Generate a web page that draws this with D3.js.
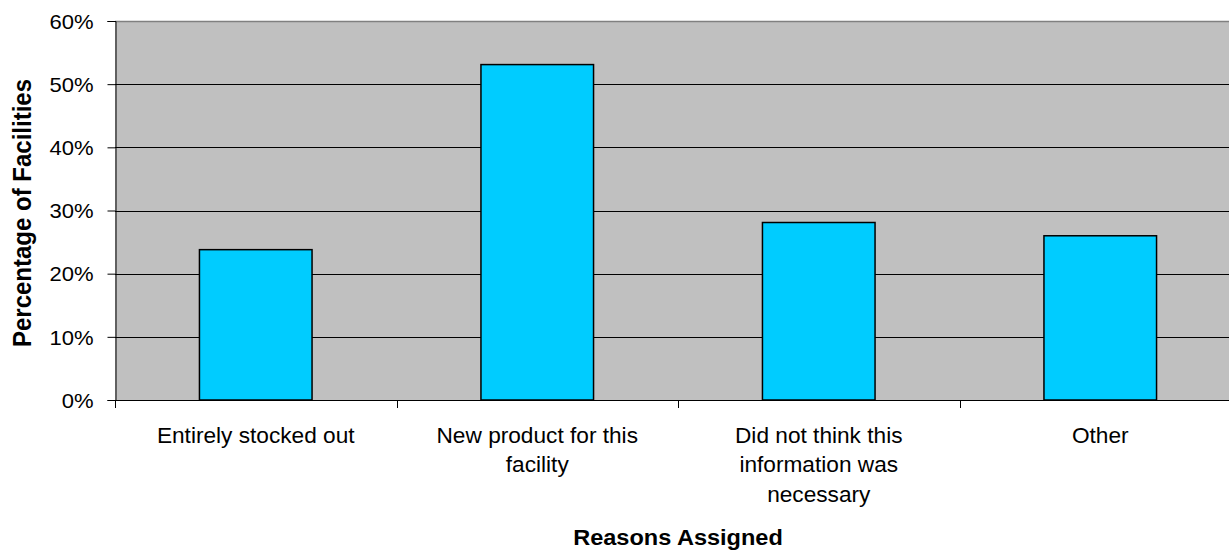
<!DOCTYPE html>
<html>
<head>
<meta charset="utf-8">
<script src="https://cdn.jsdelivr.net/npm/d3@7"></script>
<style>
  html, body { margin: 0; padding: 0; background: #fff; }
  svg { display: block; font-family: "Liberation Sans", Arial, sans-serif; }
</style>
</head>
<body>
<svg id="chart" width="1229" height="550"></svg>
<script>
// Reasons why facilities did not report, share of facilities per reason
const categories = [
  ["Entirely stocked out"],
  ["New product for this", "facility"],
  ["Did not think this", "information was", "necessary"],
  ["Other"]
];
const categoryKeys = categories.map(c => c.join(" "));
const values = [0.238, 0.531, 0.281, 0.26];
const yTicks = [0, 0.1, 0.2, 0.3, 0.4, 0.5, 0.6];
const yTitle = "Percentage of Facilities";
const xTitle = "Reasons Assigned";

const svg = d3.select("#chart");
const plot = { left: 115, right: 1241, top: 21, bottom: 400 };
const stretch = 1.07; // horizontal widening of the lettering

const x = d3.scaleBand(categoryKeys, [plot.left, plot.right])
  .paddingInner(0.6).paddingOuter(0.3);
const y = d3.scaleLinear([0, 0.6], [plot.bottom, plot.top]);

// plot background
svg.append("rect")
  .attr("x", plot.left).attr("y", plot.top)
  .attr("width", plot.right - plot.left).attr("height", plot.bottom - plot.top)
  .attr("fill", "#c0c0c0");

// horizontal gridlines
svg.append("g").selectAll("line")
  .data(yTicks.filter(t => t > 0 && t < 0.6))
  .join("line")
  .attr("x1", plot.left).attr("x2", plot.right)
  .attr("y1", d => Math.round(y(d)) + 0.5).attr("y2", d => Math.round(y(d)) + 0.5)
  .attr("stroke", "#000").attr("stroke-width", 1);

// top border of plot area
svg.append("line")
  .attr("x1", plot.left).attr("x2", plot.right)
  .attr("y1", plot.top + 0.5).attr("y2", plot.top + 0.5)
  .attr("stroke", "#808080").attr("stroke-width", 1.5);

// bars
svg.append("g").selectAll("rect")
  .data(values)
  .join("rect")
  .attr("x", (d, i) => x(categoryKeys[i]))
  .attr("y", d => y(d))
  .attr("width", x.bandwidth())
  .attr("height", d => y(0) - y(d))
  .attr("fill", "#00ccff")
  .attr("stroke", "#000")
  .attr("stroke-width", 1.5);

// y axis
const yAxis = svg.append("g")
  .attr("transform", `translate(${plot.left + 0.5},0)`)
  .call(d3.axisLeft(y).tickValues(yTicks).tickFormat(d3.format(".0%"))
    .tickSize(8).tickPadding(0));
yAxis.select(".domain").attr("stroke", "#000");
yAxis.selectAll(".tick line").attr("stroke", "#000");
yAxis.selectAll(".tick text").remove();
yAxis.selectAll(".tick").append("g")
  .attr("transform", `translate(-22,0) scale(${stretch * 1.03},1)`)
  .append("text")
  .attr("text-anchor", "end")
  .attr("dy", "0.36em")
  .attr("font-size", 20)
  .attr("fill", "#000")
  .text(d => d3.format(".0%")(d));

// x axis with ticks at category boundaries
const xAxisG = svg.append("g");
xAxisG.append("line")
  .attr("x1", plot.left).attr("x2", plot.right)
  .attr("y1", plot.bottom + 0.5).attr("y2", plot.bottom + 0.5)
  .attr("stroke", "#000");
const edges = d3.range(categoryKeys.length + 1).map(i => plot.left + i * x.step());
xAxisG.selectAll(".xtick").data(edges).join("line")
  .attr("class", "xtick")
  .attr("x1", d => Math.round(d) + 0.5).attr("x2", d => Math.round(d) + 0.5)
  .attr("y1", plot.bottom).attr("y2", plot.bottom + 8)
  .attr("stroke", "#000");

// category labels
const labels = svg.append("g").selectAll("g")
  .data(categories)
  .join("g")
  .attr("transform", (d, i) =>
    `translate(${x(categoryKeys[i]) + x.bandwidth() / 2},443) scale(1.03,1)`);
labels.selectAll("text")
  .data(d => d)
  .join("text")
  .attr("text-anchor", "middle")
  .attr("y", (d, j) => j * 29.5)
  .attr("font-size", 22)
  .attr("fill", "#000")
  .text(d => d);

// axis titles
svg.append("g")
  .attr("transform", `translate(${(plot.left + plot.right) / 2},545) scale(${stretch},1)`)
  .append("text")
  .attr("text-anchor", "middle")
  .attr("font-size", 22)
  .attr("font-weight", "bold")
  .attr("fill", "#000")
  .text(xTitle);

svg.append("g")
  .attr("transform", `translate(31,213) scale(${stretch},1) rotate(-90)`)
  .append("text")
  .attr("text-anchor", "middle")
  .attr("font-size", 24)
  .attr("font-weight", "bold")
  .attr("fill", "#000")
  .text(yTitle);
</script>
</body>
</html>
